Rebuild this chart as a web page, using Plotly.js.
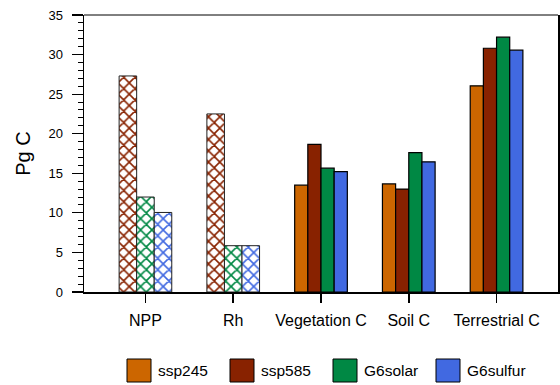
<!DOCTYPE html>
<html>
<head>
<meta charset="utf-8">
<script src="https://cdn.plot.ly/plotly-3.0.1.min.js"></script>
<style>html,body{margin:0;padding:0;background:#fff;}#chart{width:560px;height:385px;}</style>
</head>
<body>
<div id="chart"></div>
<script>
// ---- data ----
var categories = ["NPP", "Rh", "Vegetation C", "Soil C", "Terrestrial C"];
var seriesNames = ["ssp245", "ssp585", "G6solar", "G6sulfur"];
var seriesColors = ["#CC6600", "#882200", "#008844", "#4169E1"];
// flux categories (hatched): ssp585, G6solar, G6sulfur
var fluxCategories = ["NPP", "Rh"];
var fluxSeries = ["ssp585", "G6solar", "G6sulfur"];
var flux_ssp585 = [27.3, 22.5];
var flux_G6solar = [12.0, 5.85];
var flux_G6sulfur = [10.05, 5.85];
// pool categories (solid): all four series
var poolCategories = ["Vegetation C", "Soil C", "Terrestrial C"];
var pool_ssp245 = [13.5, 13.65, 26.05];
var pool_ssp585 = [18.65, 13.0, 30.8];
var pool_G6solar = [15.65, 17.6, 32.2];
var pool_G6sulfur = [15.2, 16.45, 30.55];
var yTicks = [0, 5, 10, 15, 20, 25, 30, 35];

// ---- traces ----
var groupWidth = 0.6;
var traces = [];
var fluxVals = [flux_ssp585, flux_G6solar, flux_G6sulfur];
var fw = groupWidth / fluxSeries.length;
fluxSeries.forEach(function (name, i) {
  var c = seriesColors[seriesNames.indexOf(name)];
  traces.push({
    type: "bar", x: fluxCategories, y: fluxVals[i], name: name,
    width: fw, offset: -groupWidth / 2 + i * fw, showlegend: false,
    marker: {color: "#ffffff", line: {color: "#222", width: 1},
      pattern: {shape: "x", fgcolor: c, fgopacity: 1, bgcolor: "#ffffff", size: 8, solidity: 0.36, fillmode: "replace"}}
  });
});
var poolVals = [pool_ssp245, pool_ssp585, pool_G6solar, pool_G6sulfur];
var pw = groupWidth / seriesNames.length;
seriesNames.forEach(function (name, i) {
  traces.push({
    type: "bar", x: poolCategories, y: poolVals[i], name: name,
    width: pw, offset: -groupWidth / 2 + i * pw, showlegend: false,
    marker: {color: seriesColors[i], line: {color: "#000", width: 1.2}}
  });
});

// ---- custom legend ----
var L = 84, R = 558, T = 15, B = 292;
function px2x(p) { return (p - L) / (R - L); }
function py2y(p) { return (B - p) / (B - T); }
var shapes = [], annotations = [];
seriesNames.forEach(function (name, i) {
  var x0 = 127 + i * 103;
  shapes.push({type: "rect", xref: "paper", yref: "paper",
    x0: px2x(x0), x1: px2x(x0 + 24), y0: py2y(382), y1: py2y(359),
    fillcolor: seriesColors[i], line: {color: "#000", width: 1}});
  annotations.push({xref: "paper", yref: "paper", x: px2x(x0 + 29), y: py2y(370.5),
    xanchor: "left", yanchor: "middle", showarrow: false, text: name,
    font: {size: 15.5, color: "#000", family: "Liberation Sans, Arial, sans-serif"}});
});

var layout = {
  width: 560, height: 385,
  margin: {l: L, r: 560 - R, t: T, b: 385 - B},
  paper_bgcolor: "#fff", plot_bgcolor: "#fff",
  barmode: "overlay", showlegend: false,
  font: {family: "Liberation Sans, Arial, sans-serif", color: "#000"},
  xaxis: {type: "category", categoryorder: "array", categoryarray: categories,
    range: [-0.7, 4.7], showgrid: false, zeroline: false,
    showline: true, linecolor: "#000", linewidth: 2, mirror: false,
    ticks: "outside", ticklen: 9, tickwidth: 1.5, tickcolor: "#000",
    ticklabelstandoff: 4,
    tickfont: {size: 16}},
  yaxis: {range: [0, 35], tickvals: yTicks, showgrid: false, zeroline: false,
    showline: true, linecolor: "#000", linewidth: 1.5, mirror: "allticks",
    ticks: "outside", ticklen: 11, tickwidth: 1.2, tickcolor: "#000",
    ticklabelstandoff: 6,
    tickfont: {size: 13}},
  shapes: shapes.concat([{type: "line", xref: "paper", yref: "paper", x0: 0, x1: 1, y0: 1, y1: 1, line: {color: "#000", width: 1}}]),
  annotations: annotations
};
layout.yaxis.minor = {dtick: 1, ticks: "outside", ticklen: 5, tickwidth: 1, tickcolor: "#000"};
layout.yaxis.title = {text: "Pg C", font: {size: 20}, standoff: 12};
Plotly.newPlot("chart", traces, layout, {displayModeBar: false, staticPlot: true});
</script>
</body>
</html>
